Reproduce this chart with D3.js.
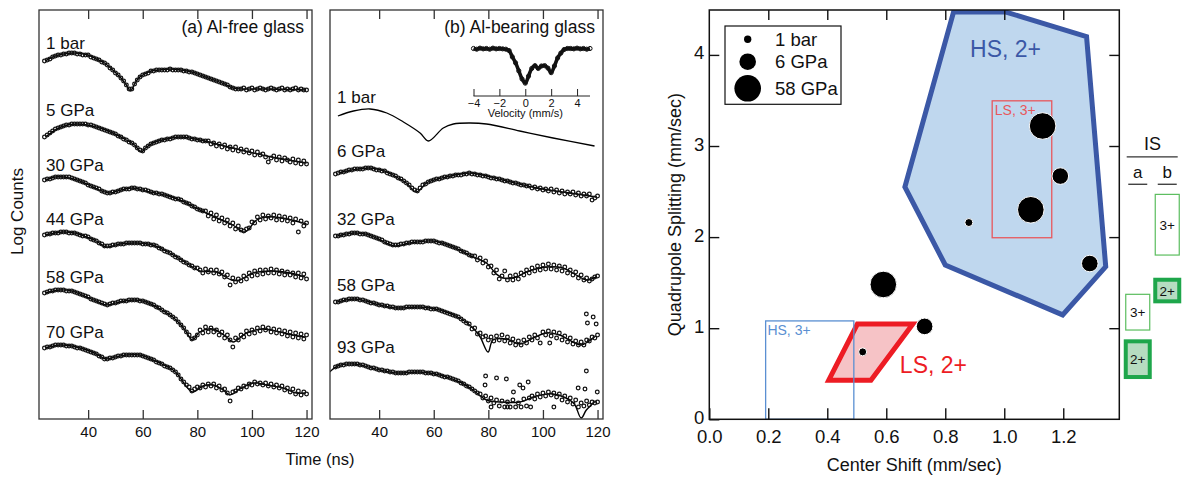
<!DOCTYPE html>
<html><head><meta charset="utf-8">
<script src="https://cdn.jsdelivr.net/npm/d3@7"></script>
<style>body{margin:0;background:#fff}svg{display:block}text{font-family:"Liberation Sans",Arial,Helvetica,sans-serif}</style>
</head><body><svg id="c" width="1185" height="477"></svg>
<script>
// ---------- DATA ----------
const timeNs = [24,25,26,27,28,29,30,31,32,33,34,35,36,37,38,39,40,41,42,43,44,45,46,47,48,49,50,51,52,53,54,55,56,57,58,59,60,61,62,63,64,65,66,67,68,69,70,71,72,73,74,75,76,77,78,79,80,81,82,83,84,85,86,87,88,89,90,91,92,93,94,95,96,97,98,99,100,101,102,103,104,105,106,107,108,109,110,111,112,113,114,115,116,117,118,119,120];
const timeTicks = [40,60,80,100,120];
const namesA = ["1 bar","5 GPa","30 GPa","44 GPa","58 GPa","70 GPa"];
const labelPosA = [37.0,30.3,24.8,19.4,13.6,8.1];
const namesB = ["1 bar","6 GPa","32 GPa","58 GPa","93 GPa"];
const labelPosB = [31.6,26.2,19.4,12.8,6.6];

const ptsA1 = [35.8,35.9,36.0,36.2,36.3,36.4,36.4,36.5,36.5,36.6, 36.6,36.6,36.5,36.5,36.4,36.4,36.4,36.2,36.1,36.0, 35.9,35.7,35.6,35.4,35.1,34.9,34.6,34.4,34.1,33.8, 33.4,33.0,33.0,33.5,33.9,34.2,34.4,34.5,34.6,34.8, 34.8,34.9,34.9,34.9,34.9,34.9,35.0,34.9,34.9,34.9, 34.9,34.8,34.8,34.7,34.7,34.6,34.5,34.4,34.3,34.2, 34.1,34.0,33.9,33.8,33.7,33.6,33.5,33.4,33.2,33.1, 33.0,33.0,33.0,33.1,32.9,33.0,33.1,32.9,33.0,33.1, 33.0,32.9,33.0,33.1,33.0,32.9,33.0,33.1,32.9,33.0, 32.9,33.0,33.1,32.9,33.0,32.9,32.9];
const ptsA2 = [28.2,28.4,28.6,28.8,29.0,29.1,29.2,29.3,29.4,29.4, 29.5,29.5,29.5,29.5,29.5,29.5,29.4,29.4,29.3,29.2, 29.1,29.0,28.9,28.8,28.7,28.6,28.5,28.3,28.2,28.0, 27.9,27.7,27.6,27.4,27.1,26.9,26.8,27.1,27.3,27.5, 27.6,27.7,27.8,27.9,27.9,28.0,28.0,28.1,28.2,28.2, 28.2,28.2,28.2,28.1,28.0,28.0,27.9,27.9,27.8,27.8, 27.8,27.5,27.6,27.3,27.5,27.2,27.4,27.0,27.2,26.9, 27.2,26.8,27.0,26.7,26.9,26.6,26.8,26.4,26.7,26.4, 26.5,26.2,25.7,26.1,26.3,25.9,26.2,25.8,26.1,25.9, 25.7,26.0,25.6,25.9,25.5,25.8,25.5];
const ptsA3 = [23.9,24.0,24.0,24.1,24.2,24.2,24.2,24.2,24.2,24.2, 24.1,24.0,23.9,23.8,23.7,23.6,23.4,23.3,23.2,23.1, 23.0,22.8,22.7,22.6,22.6,22.7,22.7,22.8,22.9,23.0, 23.0,23.0,23.1,23.1,23.0,23.0,22.9,22.9,22.8,22.7, 22.6,22.6,22.5,22.5,22.4,22.3,22.2,22.1,22.0,22.0, 21.9,21.7,21.6,21.5,21.3,21.2,21.0,20.9,20.8,20.8, 20.3,20.6,20.0,20.4,19.8,20.1,19.6,19.9,19.3,19.6, 19.0,19.3,18.9,18.8,19.0,19.1,19.7,19.6,20.2,19.9, 20.4,20.0,20.3,20.1,20.4,19.9,20.3,19.9,20.2,19.8, 20.1,19.6,20.0,18.7,19.8,19.3,19.6];
const ptsA4 = [18.4,18.5,18.5,18.6,18.6,18.6,18.7,18.7,18.7,18.6, 18.6,18.6,18.5,18.4,18.3,18.3,18.2,18.0,17.9,17.8, 17.6,17.5,17.3,17.3,17.3,17.4,17.4,17.5,17.5,17.5, 17.6,17.6,17.6,17.6,17.6,17.6,17.5,17.5,17.5,17.4, 17.4,17.3,17.1,17.0,16.8,16.7,16.6,16.4,16.2,16.1, 15.9,15.7,15.6,15.4,15.3,15.1,15.1,14.9,14.6,15.0, 14.7,14.9,14.6,14.9,14.5,14.7,14.2,14.4,13.4,14.1, 13.7,14.0,13.8,14.3,14.0,14.6,14.3,14.8,14.4,14.9, 14.5,14.9,14.6,15.0,14.6,14.9,14.5,14.8,14.4,14.7, 14.4,14.6,14.2,14.6,14.1,14.5,14.0];
const ptsA5 = [12.6,12.7,12.8,12.8,12.9,12.9,12.9,12.9,12.8,12.8, 12.8,12.7,12.6,12.5,12.4,12.3,12.2,12.0,11.9,11.8, 11.7,11.6,11.5,11.4,11.5,11.6,11.6,11.7,11.8,11.8, 11.8,11.9,11.9,11.9,11.9,11.8,11.8,11.7,11.6,11.5, 11.4,11.2,11.1,10.9,10.7,10.6,10.4,10.2,10.0,9.7, 9.4,9.1,8.7,8.4,8.0,8.1,8.4,8.9,8.6,9.2, 8.7,9.1,8.7,8.9,8.4,8.7,8.1,8.4,7.9,7.2, 8.1,7.9,8.4,8.2,8.8,8.5,8.9,8.6,9.1,8.8, 9.2,8.9,9.1,8.7,9.0,8.6,8.9,8.5,8.8,8.3, 8.7,8.2,8.6,8.1,8.5,8.0,8.4];
const ptsA6 = [7.1,7.2,7.2,7.3,7.4,7.4,7.4,7.4,7.3,7.3, 7.3,7.2,7.1,7.1,7.0,6.9,6.8,6.7,6.6,6.5, 6.3,6.2,6.0,6.0,6.1,6.1,6.2,6.3,6.3,6.4, 6.4,6.4,6.4,6.4,6.4,6.4,6.3,6.2,6.1,6.0, 5.9,5.7,5.6,5.5,5.3,5.2,5.1,4.9,4.7,4.4, 4.0,3.7,3.4,3.2,2.8,3.0,3.2,3.1,3.4,3.2, 3.5,3.3,3.5,3.1,3.3,2.9,3.0,2.6,1.8,2.7, 2.8,3.1,3.0,3.3,3.2,3.5,3.4,3.7,3.5,3.6, 3.4,3.6,3.3,3.5,3.2,3.4,3.1,3.3,2.9,3.1, 2.7,3.0,2.5,2.8,2.4,2.7,2.5];
const ptsB2 = [24.5,24.6,24.7,24.7,24.8,24.9,24.9,25.0,25.0,25.0, 25.0,25.1,25.1,25.1,25.0,24.9,24.9,24.8,24.8,24.6, 24.5,24.4,24.3,24.1,24.0,23.8,23.6,23.4,23.1,22.9, 22.8,23.1,23.4,23.5,23.7,23.8,23.9,24.0,24.0,24.1, 24.2,24.2,24.3,24.3,24.4,24.4,24.4,24.5,24.5,24.6, 24.5,24.5,24.4,24.4,24.3,24.3,24.2,24.1,24.1,24.0, 24.0,23.9,23.8,23.8,23.7,23.6,23.6,23.5,23.4,23.4, 23.3,23.3,23.1,23.2,23.0,23.1,22.9,23.0,22.8,23.0, 22.7,22.9,22.6,22.8,22.5,22.7,22.5,22.7,22.4,22.6, 22.3,22.5,22.3,22.5,21.9,22.1,22.3];
const ptsB3 = [18.3,18.3,18.4,18.4,18.5,18.5,18.6,18.6,18.6,18.5, 18.5,18.5,18.4,18.3,18.2,18.1,18.0,17.9,17.7,17.6, 17.5,17.4,17.4,17.4,17.5,17.5,17.6,17.6,17.7,17.7, 17.7,17.7,17.7,17.8,17.8,17.8,17.8,17.7,17.6,17.6, 17.5,17.4,17.3,17.2,17.1,17.0,16.8,16.7,16.6,16.4, 16.3,16.3,15.9,16.1,15.6,15.8,15.2,15.3,14.6,14.9, 14.0,14.3,14.8,13.9,14.3,13.9,14.4,14.0,14.6,14.4, 14.9,14.6,15.1,14.8,15.3,14.9,15.4,15.0,15.5,15.0, 15.4,14.9,15.3,14.8,15.2,14.6,14.9,14.4,14.7,14.1, 14.4,13.9,14.1,13.8,14.0,14.2,14.3];
const ptsB4 = [11.7,11.7,11.8,11.9,11.9,12.0,12.0,12.0,12.0,11.9, 11.9,11.8,11.7,11.6,11.6,11.5,11.4,11.4,11.3,11.3, 11.2,11.2,11.1,11.1,11.1,11.1,11.2,11.2,11.2,11.2, 11.2,11.2,11.2,11.1,11.1,11.0,11.0,11.0,10.9,10.8, 10.7,10.6,10.5,10.4,10.3,10.2,10.0,9.8,9.6,9.5, 9.0,9.1,8.5,8.6,8.2,8.3,7.9,8.2,7.8,8.3, 7.9,8.4,7.8,8.2,7.6,8.0,7.4,7.8,7.4,7.9, 7.6,8.2,7.9,8.4,8.1,7.6,8.7,8.4,8.8,8.3, 8.7,8.1,8.6,7.9,8.3,7.7,8.1,7.5,7.8,7.4, 7.7,7.4,7.9,7.8,8.2,8.1,8.4];
const ptsB5 = [5.2,5.3,5.4,5.4,5.5,5.5,5.5,5.5,5.5,5.4, 5.4,5.3,5.2,5.1,5.1,5.0,4.9,4.9,4.8,4.8, 4.7,4.7,4.6,4.6,4.6,4.6,4.6,4.7,4.7,4.7, 4.7,4.7,4.7,4.6,4.6,4.6,4.5,4.5,4.4,4.3, 4.2,4.2,4.1,4.0,3.9,3.8,3.6,3.5,3.3,3.2, 3.0,2.8,2.6,2.5,2.1,2.3,1.8,2.1,1.6,1.9, 1.3,1.8,1.2,1.7,1.2,1.9,1.2,1.6,1.2,2.0, 1.3,2.1,2.3,2.0,2.5,2.2,2.6,2.3,2.7,2.4, 2.6,2.2,2.5,1.9,2.3,1.7,2.1,1.5,1.9,1.2, 1.6,1.3,1.8,1.4,1.7,1.6,1.7];
const extraB4 = [[115.9,10.5],[118.4,10.2],[116.3,9.6],[119.5,9.5],[102.5,7.6]];
const extraB5 = [[79,4.3],[83,4.1],[86.6,4.0],[78.8,3.4],[89.2,2.7],[91.5,3.4],[94.6,3.7],[92.7,3.1],[115.9,4.8],[112.9,3.1],[115.4,3.0],[119.9,2.7],[81,1.2],[87,1.2],[95.5,1.2],[104,1.2]];

const fitA1 = [[24.4,35.8],[27,36.2],[31,36.5],[35,36.6],[40,36.4],[43,36.0],[46,35.6],[49,34.9],[52,34.1],[54,33.4],[55.5,32.8],[57,33.5],[58.5,34.1],[60,34.4],[63,34.8],[66,34.9],[70,35.0],[74,34.9],[78,34.7],[82,34.3],[86,33.9],[90,33.5],[93,33.1],[96,33.0],[105,33.0],[119.5,32.9]];
const fitA2 = [[24.4,28.2],[30,29.2],[35.7,29.5],[43,29.2],[49,28.6],[54,27.9],[57,27.4],[59.5,26.7],[61,27.1],[63.7,27.6],[68.7,28.0],[73.6,28.2],[80.9,27.9],[93,27.1],[105.4,26.3],[120,25.6]];
const fitA3 = [[24.4,23.9],[28,24.2],[31,24.2],[36,23.9],[41.8,23.2],[45,22.8],[48,22.6],[52,22.9],[56.4,23.1],[62.6,22.7],[68,22.4],[73.6,21.9],[81,20.9],[88,20.0],[93,19.4],[97.4,18.7],[101.7,19.9],[105,20.2],[111,20.1],[120,19.5]];
const fitA4 = [[24.4,18.4],[30.8,18.7],[35,18.6],[39.4,18.2],[43,17.8],[46.5,17.2],[51.6,17.5],[57.7,17.6],[63.7,17.4],[69.9,16.6],[76,15.6],[80.9,14.8],[87,14.7],[92.5,13.9],[95.6,13.9],[100.4,14.6],[107.8,14.8],[114,14.6],[119.4,14.2]];
const fitA5 = [[24.4,12.6],[29.6,12.9],[34,12.8],[39.4,12.2],[43,11.8],[46.5,11.4],[51.6,11.7],[56.4,11.9],[60,11.8],[63.7,11.4],[67,10.9],[71,10.2],[74,9.4],[76,8.7],[78.2,7.9],[80.9,8.7],[85.7,9.0],[90.7,8.2],[93.1,7.7],[98,8.6],[104,9.0],[110.2,8.7],[115,8.4],[119.4,8.2]];
const fitA6 = [[24.4,7.1],[29.6,7.4],[34,7.3],[39.4,6.9],[43,6.5],[46.5,6.0],[50,6.2],[54,6.4],[59,6.4],[62,6.1],[66.3,5.6],[71.1,4.9],[73,4.4],[74.8,3.7],[78.2,2.7],[82.1,3.3],[85.8,3.4],[89.4,2.9],[91.9,2.4],[95.6,3.0],[100.4,3.6],[105.3,3.4],[111.4,3.1],[116.3,2.6],[119.4,2.6]];
const fitB1 = [[24.9,30.3],[30.6,30.8],[36.7,31.0],[42.8,30.6],[48.9,29.7],[55,28.6],[58,27.8],[63.5,29.1],[67.2,29.5],[73.3,29.6],[79.3,29.5],[91.5,28.8],[103.7,28.1],[118.9,27.3]];
const fitB2 = [[25.1,24.6],[30,24.9],[36.6,25.1],[42,24.8],[46.3,24.2],[50,23.6],[53.6,22.7],[57.3,23.6],[60,23.9],[64.6,24.2],[73.1,24.6],[85.3,23.9],[97.6,23.1],[109.7,22.6],[119.5,22.2]];
const fitB3 = [[24.8,18.3],[30.7,18.6],[35,18.5],[39,18.1],[45.7,17.3],[51.2,17.6],[59.7,17.8],[67.1,17.2],[74.4,16.2],[79.3,15.6],[82.9,14.5],[85.4,14.1],[90.3,14.2],[93.9,14.7],[101.2,15.2],[107.3,15.1],[112.2,14.4],[115.9,13.9],[119.5,14.2]];
const fitB4 = [[24.8,11.7],[30.7,12.0],[35,11.8],[40.3,11.4],[46.3,11.1],[54.8,11.2],[62.2,10.9],[69.5,10.1],[74.4,9.1],[77,8.2],[79.9,6.7],[81.7,7.9],[86.6,8.0],[91.5,7.5],[96.4,8.1],[101.2,8.6],[106.1,8.4],[111,7.7],[114,7.4],[118.9,8.2]];
const fitB5 = [[21.5,4.6],[24.8,5.3],[30.7,5.5],[40.3,4.9],[46.3,4.6],[54.8,4.7],[62.2,4.4],[69.5,3.7],[74.4,2.9],[79.3,1.9],[84.2,1.7],[91.5,1.7],[97.6,2.3],[103.6,2.5],[108.5,2.1],[111.5,1.5],[114,0.1],[115.9,0.9],[118.9,1.7]];

// inset Mossbauer spectrum
const insetVel = [-4,-3.75,-3.5,-3.25,-3,-2.75,-2.5,-2.25,-2,-1.75,-1.5,-1.25,-1,-0.75,-0.5,-0.25,0,0.25,0.5,0.75,1,1.25,1.5,1.75,2,2.25,2.5,2.75,3,3.25,3.5,3.75,4,4.25,4.5,4.75,5];
const insetTrans = [1.000,0.998,1.001,0.999,1.000,0.998,1.001,0.999,1.000,0.999,0.998,0.994,0.976,0.959,0.936,0.913,0.901,0.921,0.943,0.951,0.943,0.950,0.951,0.944,0.931,0.950,0.973,0.987,0.997,1.000,1.000,0.999,1.001,0.999,1.000,0.998,1.000];
const insetTicks = [-4,-2,0,2,4];

// right panel
const csTicks = [0,0.2,0.4,0.6,0.8,1.0,1.2];
const qsTicks = [0,1,2,3,4];
const centerShift = [0.52,0.59,0.73,0.88,1.13,1.19,1.09,1.29];
const quadSplit = [0.74,1.48,1.02,2.16,3.22,2.67,2.30,1.71];
const pressureCat = ["1 bar","58 GPa","6 GPa","1 bar","58 GPa","6 GPa","58 GPa","6 GPa"];
const legendCats = ["1 bar","6 GPa","58 GPa"];
const hs2Poly = [[0.828,4.47],[1.006,4.47],[1.279,4.20],[1.344,1.675],[1.198,1.146],[0.80,1.694],[0.663,2.55]];
const ls2Poly = [[0.405,0.43],[0.502,1.045],[0.69,1.045],[0.548,0.43]];
const ls3Rect = [[0.959,1.993],[1.161,3.496]];
const hs3Rect = [[0.191,0],[0.490,1.08]];
const isCols = ["a","b"];
const isBoxes = [
  {col:"b", label:"3+", lo:1.803, hi:2.469, kind:"thin"},
  {col:"b", label:"2+", lo:1.295, hi:1.532, kind:"thick"},
  {col:"a", label:"3+", lo:0.980, hi:1.372, kind:"thin"},
  {col:"a", label:"2+", lo:0.464, hi:0.856, kind:"thick"}
];

// ---------- DRAW ----------
const svg = d3.select("#c");
const FONT = '"Liberation Sans",Arial,Helvetica,sans-serif';
const yL = d3.scaleLinear([0,40.9],[419,10]);
const fitLine = (x) => d3.line().x(d=>x(d[0])).y(d=>yL(d[1])).curve(d3.curveCatmullRom.alpha(0.5));

function panel(id, left, title, names, labelPos, ptsList, fits, extras, lineOnly){
  const x = d3.scaleLinear([22,122],[left,left+273]);
  const g = svg.append("g");
  svg.append("clipPath").attr("id",id).append("rect").attr("x",left).attr("y",10).attr("width",273).attr("height",409);
  const body = g.append("g").attr("clip-path",`url(#${id})`);
  names.forEach((n,i)=>{
    const pts = ptsList[i];
    body.append("path").attr("d",fitLine(x)(fits[i])).attr("fill","none")
      .attr("stroke","#000").attr("stroke-width",lineOnly[i]?1.3:1.4);
    if(pts){
      body.append("g").selectAll("circle").data(pts.map((v,j)=>[timeNs[j],v]).concat(extras[i]||[]))
        .join("circle").attr("cx",d=>x(d[0])).attr("cy",d=>yL(d[1])).attr("r",1.85)
        .attr("fill","none").attr("stroke","#111").attr("stroke-width",1.25);
    }
    g.append("text").attr("x",x(24.6)).attr("y",yL(labelPos[i])).text(n)
      .attr("font-size",17).attr("fill","#111");
  });
  g.append("rect").attr("x",left).attr("y",10).attr("width",273).attr("height",409)
    .attr("fill","none").attr("stroke","#333").attr("stroke-width",1.3);
  const ab = g.append("g").attr("transform","translate(0,419)")
    .call(d3.axisBottom(x).tickValues(timeTicks).tickSize(-9).tickSizeOuter(0).tickPadding(7));
  ab.select(".domain").remove();
  ab.selectAll("line").attr("stroke","#333").attr("stroke-width",1.3);
  ab.selectAll("text").attr("font-size",15).attr("font-family",FONT).attr("fill","#111");
  const at = g.append("g").attr("transform","translate(0,10)")
    .call(d3.axisTop(x).tickValues(timeTicks).tickSize(-9).tickSizeOuter(0).tickFormat(""));
  at.select(".domain").remove();
  at.selectAll("line").attr("stroke","#333").attr("stroke-width",1.3);
  g.append("text").attr("x",left+265).attr("y",33).attr("text-anchor","end")
    .attr("font-size",17.5).attr("fill","#111").text(title);
  return g;
}

panel("clipA",39,"(a) Al-free glass",namesA,labelPosA,[ptsA1,ptsA2,ptsA3,ptsA4,ptsA5,ptsA6],
  [fitA1,fitA2,fitA3,fitA4,fitA5,fitA6],[],[false,false,false,false,false,false]);
const gB = panel("clipB",330,"(b) Al-bearing glass",namesB,labelPosB,[null,ptsB2,ptsB3,ptsB4,ptsB5],
  [fitB1,fitB2,fitB3,fitB4,fitB5],[null,null,null,extraB4,extraB5],[true,false,false,false,false]);

// inset
const xi = d3.scaleLinear([-4,5],[473.5,590]);
const yi = d3.scaleLinear([0.9,1.0],[83.5,48.5]);
const ins = gB.append("g");
ins.append("path").attr("d",d3.line().x((d,i)=>xi(insetVel[i])).y(d=>yi(d)).curve(d3.curveCatmullRom.alpha(0.5))(insetTrans))
  .attr("fill","none").attr("stroke","#111").attr("stroke-width",3.6).attr("stroke-linejoin","round");
ins.selectAll("circle").data(insetTrans).join("circle").attr("cx",(d,i)=>xi(insetVel[i])).attr("cy",d=>yi(d))
  .attr("r",2.1).attr("fill","none").attr("stroke","#111").attr("stroke-width",1);
const ia = ins.append("g").attr("transform","translate(0,96)")
  .call(d3.axisBottom(xi).tickValues(insetTicks).tickSize(-7).tickSizeOuter(0).tickPadding(3));
ia.select(".domain").attr("d",`M${xi(-4)},0H${xi(5)}`).attr("stroke","#222");
ia.selectAll("line").attr("stroke","#222");
ia.selectAll("text").attr("font-size",11).attr("font-family",FONT).attr("fill","#111");
ins.append("text").attr("x",xi(0)).attr("y",117).attr("text-anchor","middle").attr("font-size",11).attr("fill","#111").text("Velocity (mm/s)");

svg.append("text").attr("transform","translate(23,211.5) rotate(-90)").attr("text-anchor","middle")
  .attr("font-size",17).attr("fill","#111").text("Log Counts");
svg.append("text").attr("x",320).attr("y",465).attr("text-anchor","middle")
  .attr("font-size",16.5).attr("fill","#111").text("Time (ns)");

// ---------- right panel ----------
const xr = d3.scaleLinear([0,1.39],[709.3,1119.3]);
const yr = d3.scaleLinear([0,4.493],[419.3,10]);
const R = svg.append("g");
svg.append("clipPath").attr("id","clipR").append("rect").attr("x",709.3).attr("y",10).attr("width",410).attr("height",409.3);
const RB = R.append("g").attr("clip-path","url(#clipR)");
const polyPath = pts => "M" + pts.map(p=>`${xr(p[0])},${yr(p[1])}`).join("L") + "Z";
RB.append("path").attr("d",polyPath(hs2Poly)).attr("fill","#bfd7ee").attr("stroke","#3b58a6").attr("stroke-width",5).attr("stroke-linejoin","miter");
RB.append("path").attr("d",polyPath(ls2Poly)).attr("fill","#f6c3c6").attr("stroke","#ed1c24").attr("stroke-width",5).attr("stroke-linejoin","miter");
RB.append("rect").attr("x",xr(ls3Rect[0][0])).attr("y",yr(ls3Rect[1][1])).attr("width",xr(ls3Rect[1][0])-xr(ls3Rect[0][0]))
  .attr("height",yr(ls3Rect[0][1])-yr(ls3Rect[1][1])).attr("fill","none").attr("stroke","#e8575c").attr("stroke-width",1.3);
RB.append("rect").attr("x",xr(hs3Rect[0][0])).attr("y",yr(hs3Rect[1][1])).attr("width",xr(hs3Rect[1][0])-xr(hs3Rect[0][0]))
  .attr("height",yr(hs3Rect[0][1])-yr(hs3Rect[1][1])).attr("fill","none").attr("stroke","#5a8fd2").attr("stroke-width",1.3);
RB.append("text").attr("x",xr(0.884)).attr("y",yr(3.98)).attr("font-size",23).attr("fill","#3b58a6").text("HS, 2+");
RB.append("text").attr("x",xr(0.646)).attr("y",yr(0.51)).attr("font-size",23).attr("fill","#ed1c24").text("LS, 2+");
RB.append("text").attr("x",xr(0.968)).attr("y",yr(3.34)).attr("font-size",14).attr("fill","#e8575c").text("LS, 3+");
RB.append("text").attr("x",xr(0.197)).attr("y",yr(0.926)).attr("font-size",14).attr("fill","#5a8fd2").text("HS, 3+");

const rSize = d3.scaleOrdinal(legendCats,[4,8.3,13.3]);
RB.selectAll("circle.b").data(centerShift).join("circle").attr("class","b")
  .attr("cx",d=>xr(d)).attr("cy",(d,i)=>yr(quadSplit[i])).attr("r",(d,i)=>rSize(pressureCat[i]))
  .attr("fill","#000").attr("stroke","#fff").attr("stroke-width",1);

R.append("rect").attr("x",709.3).attr("y",10).attr("width",410).attr("height",409.3).attr("fill","none").attr("stroke","#111").attr("stroke-width",1.5);
function styleAx(a,fs){ a.select(".domain").remove(); a.selectAll("line").attr("stroke","#111").attr("stroke-width",1.4);
  a.selectAll("text").attr("font-size",fs).attr("font-family",FONT).attr("fill","#111"); }
styleAx(R.append("g").attr("transform","translate(0,419.3)").call(d3.axisBottom(xr).tickValues(csTicks).tickFormat(d3.format(".1f")).tickSize(-11).tickSizeOuter(0).tickPadding(11)),18.5);
const axL = R.append("g").attr("transform","translate(709.3,0)").call(d3.axisLeft(yr).tickValues(qsTicks).tickFormat(d3.format("d")).tickSize(-10).tickSizeOuter(0).tickPadding(5));
styleAx(axL,18.5);
axL.selectAll("text").attr("dy","0.22em");
styleAx(R.append("g").attr("transform","translate(0,10)").call(d3.axisTop(xr).tickValues(csTicks.slice(1)).tickFormat("").tickSize(-10).tickSizeOuter(0)),18);
styleAx(R.append("g").attr("transform","translate(1119.3,0)").call(d3.axisRight(yr).tickValues(qsTicks.slice(1)).tickFormat("").tickSize(-10).tickSizeOuter(0)),18);

svg.append("text").attr("x",914.3).attr("y",470.5).attr("text-anchor","middle").attr("font-size",18).attr("fill","#111").text("Center Shift (mm/sec)");
svg.append("text").attr("transform","translate(681,214.6) rotate(-90)").attr("text-anchor","middle").attr("font-size",18).attr("fill","#111").text("Quadrupole Splitting (mm/sec)");

// legend
const L = svg.append("g");
L.append("rect").attr("x",725).attr("y",26).attr("width",116).attr("height",78.3).attr("fill","#fff").attr("stroke","#111").attr("stroke-width",1.2);
const legY = [39.3,61.7,88.3];
legendCats.forEach((c,i)=>{
  L.append("circle").attr("cx",747.7).attr("cy",legY[i]).attr("r",rSize(c)*(i==0?0.92:1)).attr("fill","#000");
  L.append("text").attr("x",775).attr("y",legY[i]+6.3).attr("font-size",18.5).attr("fill","#111").text(c);
});

// IS annotation
const colX = d3.scaleBand(isCols,[1123,1182]);
const IS = svg.append("g");
IS.append("text").attr("x",1152.5).attr("y",yr(2.96)).attr("text-anchor","middle").attr("font-size",18).attr("fill","#111").text("IS");
IS.append("line").attr("x1",1126.7).attr("x2",1177.7).attr("y1",yr(2.88)).attr("y2",yr(2.88)).attr("stroke","#333").attr("stroke-width",1.3);
isCols.forEach(c=>{
  const cx = colX(c)+colX.bandwidth()/2;
  IS.append("text").attr("x",cx).attr("y",yr(2.645)).attr("text-anchor","middle").attr("font-size",17).attr("fill","#111").text(c);
  IS.append("line").attr("x1",cx-9.5).attr("x2",cx+9.5).attr("y1",yr(2.58)).attr("y2",yr(2.58)).attr("stroke","#333").attr("stroke-width",1.3);
});
isBoxes.forEach(b=>{
  const cx = colX(b.col)+colX.bandwidth()/2;
  IS.append("rect").attr("x",cx-12).attr("width",24).attr("y",yr(b.hi)).attr("height",yr(b.lo)-yr(b.hi))
    .attr("fill",b.kind==="thick"?"#b6dcc0":"#fff").attr("stroke",b.kind==="thick"?"#1ea64b":"#5bbd5e")
    .attr("stroke-width",b.kind==="thick"?4:1.2);
  IS.append("text").attr("x",cx).attr("y",(yr(b.lo)+yr(b.hi))/2+5).attr("text-anchor","middle").attr("font-size",13.5).attr("fill","#111").text(b.label);
});
</script></body></html>
